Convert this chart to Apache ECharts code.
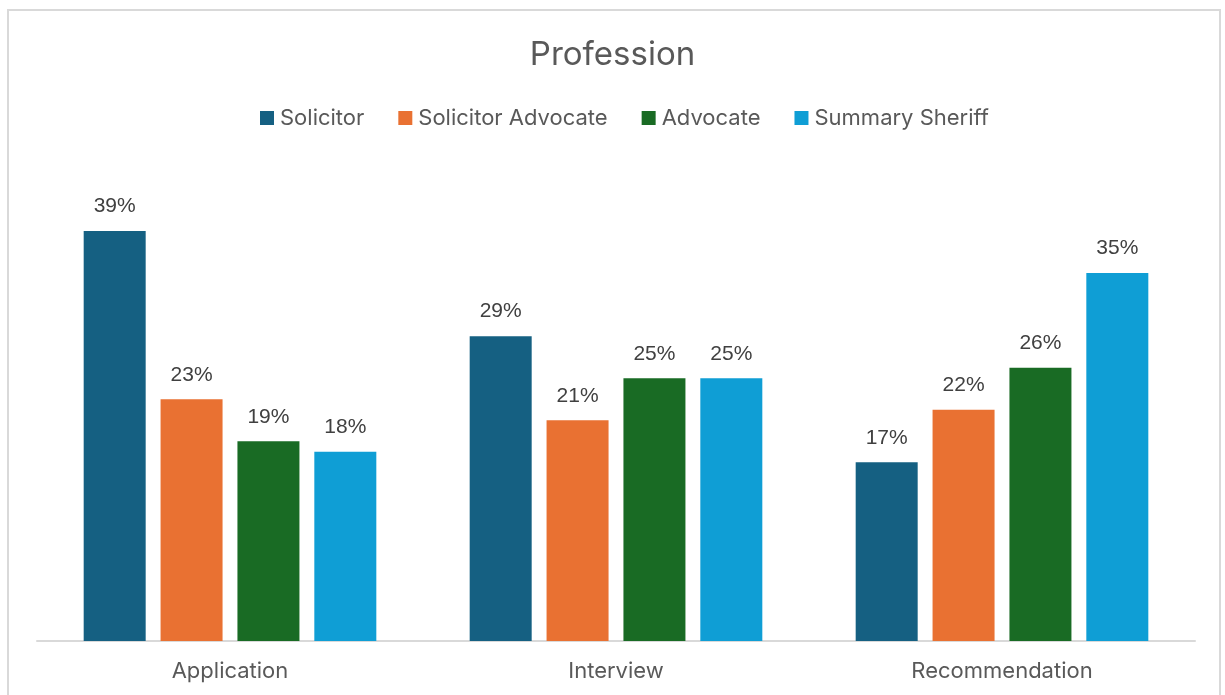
<!DOCTYPE html>
<html>
<head>
<meta charset="utf-8">
<script src="https://cdn.jsdelivr.net/npm/echarts@6/dist/echarts.min.js"></script>
<style>
  html, body { margin: 0; padding: 0; background: #ffffff; }
  #frame { position: absolute; left: 7px; top: 9px; width: 1214px; height: 700px; border: 2px solid #d9d9d9; box-sizing: border-box; background: #fff; }
  #chart { position: absolute; left: 0; top: 0; width: 1225px; height: 695px; }
</style>
</head>
<body>
<div id="frame"></div>
<div id="chart"></div>
<script>
// Stage of the appointment process
const categories = ['Application', 'Interview', 'Recommendation'];

// Share (%) by profession at each stage
const solicitor = [39, 29, 17];
const solicitorAdvocate = [23, 21, 22];
const advocate = [19, 25, 26];
const summarySheriff = [18, 25, 35];

const seriesNames = ['Solicitor', 'Solicitor Advocate', 'Advocate', 'Summary Sheriff'];
const seriesColors = ['#156082', '#e97132', '#196b24', '#0f9ed5'];
const seriesData = [solicitor, solicitorAdvocate, advocate, summarySheriff];

const uiFont = 'Inter, "Noto Sans", sans-serif';

const chart = echarts.init(document.getElementById('chart'), null, { renderer: 'canvas' });

chart.setOption({
  animation: false,
  title: {
    text: 'Profession',
    left: 'center',
    top: 34,
    textStyle: { color: '#595959', fontSize: 33, fontWeight: 'normal', fontFamily: uiFont }
  },
  legend: {
    top: 102,
    left: 255,
    itemWidth: 14,
    itemHeight: 14,
    itemGap: 34,
    icon: 'rect',
    textStyle: { color: '#595959', fontSize: 22, fontFamily: uiFont, padding: [0, 0, 0, 1] },
    data: seriesNames
  },
  grid: { left: 37, right: 30, top: 168, bottom: 54 },
  xAxis: {
    type: 'category',
    data: categories,
    axisLine: { lineStyle: { color: '#d9d9d9', width: 2 } },
    axisTick: { show: false },
    axisLabel: { color: '#595959', fontSize: 22, fontFamily: uiFont, margin: 19 }
  },
  yAxis: {
    type: 'value',
    min: 0,
    max: 45,
    show: false,
    splitLine: { show: false }
  },
  series: seriesData.map((d, i) => ({
    name: seriesNames[i],
    type: 'bar',
    data: d,
    barWidth: 62,
    barGap: '24%',
    itemStyle: { color: seriesColors[i] },
    label: {
      show: true,
      position: 'top',
      distance: 14,
      formatter: '{c}%',
      color: '#404040',
      fontSize: 21,
      fontFamily: '"Liberation Sans", Arial, sans-serif'
    }
  }))
});
</script>
</body>
</html>
